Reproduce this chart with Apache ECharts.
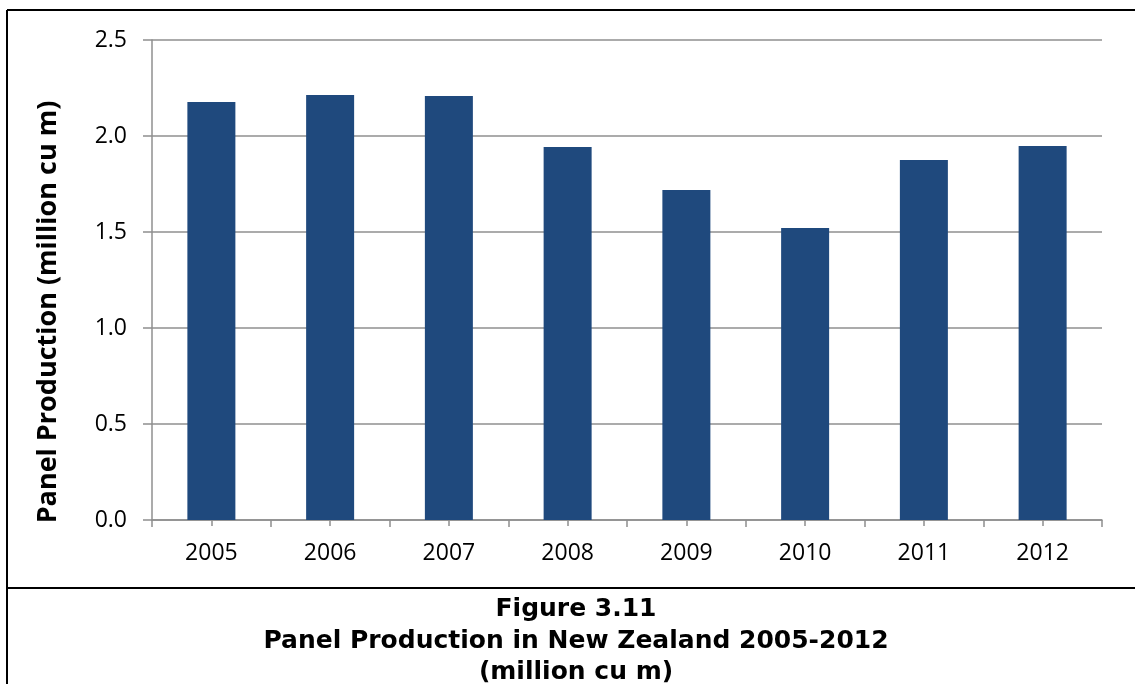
<!DOCTYPE html>
<html>
<head>
<meta charset="utf-8">
<script src="https://cdn.jsdelivr.net/npm/echarts@6/dist/echarts.min.js"></script>
<style>
html,body{margin:0;padding:0;background:#fff;}
#chart{width:1135px;height:684px;}
</style>
</head>
<body>
<div id="chart"></div>
<script>
var years = ['2005','2006','2007','2008','2009','2010','2011','2012'];
var production = [2.177, 2.214, 2.208, 1.943, 1.719, 1.521, 1.875, 1.948];
var yTicks = [0, 0.5, 1.0, 1.5, 2.0, 2.5];
var yAxisTitle = 'Panel Production (million cu m)';
var captionLines = ['Figure 3.11', 'Panel Production in New Zealand 2005-2012', '(million cu m)'];

var chart = echarts.init(document.getElementById('chart'), null, {renderer: 'canvas'});
var grey = '#8f8f8f';
var option = {
  animation: false,
  backgroundColor: '#ffffff',
  grid: {left: 152, right: 33, top: 40, height: 480},
  xAxis: [{
    type: 'category',
    data: years,
    axisLine: {lineStyle: {color: grey, width: 1.5}},
    axisTick: {show: true, length: 7, lineStyle: {color: grey, width: 1.5}},
    axisLabel: {color: '#000', fontFamily: 'Open Sans', fontSize: 23, margin: 22}
  }, {
    type: 'category',
    data: years,
    position: 'bottom',
    offset: -7,
    axisLine: {show: false},
    axisTick: {show: true, alignWithLabel: true, length: 13, lineStyle: {color: grey, width: 1.5}},
    axisLabel: {show: false}
  }],
  yAxis: {
    type: 'value',
    min: yTicks[0],
    max: yTicks[yTicks.length - 1],
    interval: 0.5,
    axisLine: {show: true, lineStyle: {color: grey, width: 1.5}},
    axisTick: {show: true, length: 9, lineStyle: {color: grey, width: 1.5}},
    splitLine: {lineStyle: {color: grey, width: 1.5}},
    axisLabel: {
      color: '#000', fontFamily: 'Open Sans', fontSize: 23, margin: 25,
      formatter: function (v) { return v.toFixed(1); }
    }
  },
  series: [{
    type: 'bar',
    data: production,
    barWidth: 48,
    itemStyle: {color: '#1f497d'},
    z: 1
  }],
  graphic: [
    {type: 'line', shape: {x1: 7, y1: 10, x2: 1135, y2: 10}, style: {stroke: '#000', lineWidth: 2}},
    {type: 'line', shape: {x1: 7, y1: 10, x2: 7, y2: 684}, style: {stroke: '#000', lineWidth: 2}},
    {type: 'line', shape: {x1: 7, y1: 588, x2: 1135, y2: 588}, style: {stroke: '#000', lineWidth: 2}},
    {
      type: 'text', x: 48, y: 312, rotation: Math.PI / 2,
      style: {text: yAxisTitle, fill: '#000', font: 'bold 27px "Open Sans"', textAlign: 'center', textVerticalAlign: 'middle'}
    },
    {
      type: 'text', x: 576, y: 594,
      style: {text: captionLines.join('\n'), fill: '#000', font: 'bold 25px "DejaVu Sans"', textAlign: 'center', textVerticalAlign: 'top', lineHeight: 31.5}
    }
  ]
};
chart.setOption(option);
</script>
</body>
</html>
